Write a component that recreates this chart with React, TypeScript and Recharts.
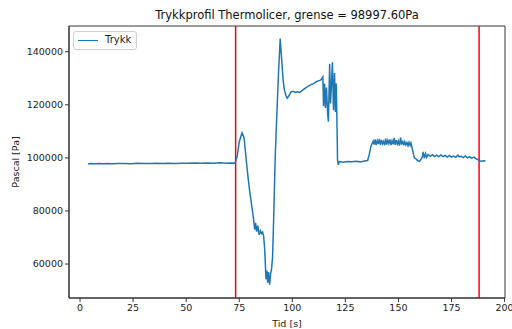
import React from 'react';
import { LineChart, Line, XAxis, YAxis, ReferenceLine, ReferenceArea } from 'recharts';

// tid i sekunder
const tid = [
  3.8, 5, 7, 9, 11, 13, 15, 18, 21, 24, 27, 30, 33, 36, 39, 42, 45, 48, 51, 54, 57, 60, 63, 66, 69, 71, 73,
  74, 75, 76.3, 77.3, 78.2, 79.1, 80, 80.7, 81.5, 82.3, 82.7, 83.2, 83.7, 84.4, 85, 85.5, 86, 86.5, 87, 87.4,
  87.6, 88, 88.4, 88.8, 89.3, 89.8, 90.2, 90.7, 91.2, 91.9, 92.6, 93.5, 94.3, 95, 95.7, 96.3, 97, 97.6, 98.5,
  99.3, 100.3, 101.5, 102.5, 103.4, 105, 106.5, 108.1, 110, 111.5, 113, 113.6, 114.4, 114.7, 115.2, 115.6,
  116.1, 116.6, 117, 117.6, 118, 118.4, 118.9, 119.4, 119.9, 120.3, 120.7, 121.1, 121.3, 121.7, 122.2, 124,
  126, 128, 130, 132, 134, 135.5, 136.3, 137.1, 138.1, 138.6, 139, 139.5, 140, 140.5, 141, 141.5, 142, 142.5,
  143, 143.5, 144, 144.5, 145, 145.5, 146, 146.5, 147, 147.5, 148, 148.5, 149, 149.5, 150, 150.5, 151, 151.5,
  152, 152.5, 153, 153.5, 154, 154.5, 155, 155.5, 155.9, 156.5, 157.5, 158.3, 159, 159.8, 160.5, 161.2, 161.7,
  162.2, 162.8, 163.3, 164, 165, 166, 167, 168, 169, 170, 171, 172, 173, 174, 175, 176, 177, 178, 178.6, 179.5,
  180.5, 181.5, 182.5, 183.5, 184.5, 185.7, 186.5, 187.3, 188, 189, 190.4, 191,
];

// trykk i Pa
const trykk = [
  97700, 97900, 97750, 97850, 97800, 97900, 97800, 97850, 97900, 97800, 97950, 97850, 97900, 98000, 97900,
  97950, 97900, 98000, 97950, 98050, 97950, 98100, 98000, 98150, 98000, 98100, 98000,
  100500, 106000, 109500, 107500, 100000, 93000, 87000, 83000, 78500, 73000, 75500, 72200, 74500, 71000,
  72500, 71500, 72000, 70500, 65500, 58000, 54300, 57500, 53000, 57000, 52200, 56500, 58000, 62500, 76500,
  99000, 114000, 132000, 145000, 137000, 129000, 125500, 123500, 122500, 123500, 124800, 125100, 124700,
  124900, 124600, 125600, 126500, 127300, 128000, 128800, 129200, 129500, 130500, 119500, 128000, 118800,
  126500, 117300, 113600, 135500, 120500, 127000, 136000, 118000, 132000, 117300, 128000, 110500, 99300,
  97400, 98600, 98400, 98600, 98500, 98700, 98500, 98800, 99000, 101500, 104500, 106300, 105000, 107000,
  104800, 106500, 105200, 107200, 104900, 106800, 105300, 106200, 104700, 107300, 105000, 106600, 105400,
  107000, 104800, 106400, 105100, 107500, 104900, 106700, 105200, 106300, 104600, 107600, 105000, 106500,
  104700, 106100, 104900, 105800, 104600, 105900, 104700, 105600, 103500, 100000, 99600, 99000, 98700, 99300,
  100300, 102300, 99800, 101600, 100200, 101300, 100600, 101200, 100500, 101000, 100400, 101100, 100500,
  100900, 100300, 100900, 100300, 100700, 100200, 101000, 100400, 100600, 100100, 100700, 100000, 100500,
  99900, 100300, 99700, 99400, 98900, 98700, 98900, 98800,
];

const xTicks = [0, 25, 50, 75, 100, 125, 150, 175, 200];
const yTicks = [60000, 80000, 100000, 120000, 140000];
const grenser = [73.3, 188];
const xDomain = [-5.2, 200.2];
const yDomain = [47200, 149700];

const data = tid.map((t, i) => ({ tid: t, trykk: trykk[i] }));

const font = 'DejaVu Sans';
const tickStyle = { fontSize: 9.5, fill: '#222', fontFamily: font };
const axisLine = { stroke: '#222', strokeWidth: 0.9 };

const LegendBox = () => (
  <div
    style={{
      position: 'absolute',
      left: 73,
      top: 31,
      width: 62,
      height: 17,
      border: '1px solid #d0d0d0',
      borderRadius: 3,
      background: 'rgba(255,255,255,0.8)',
      fontFamily: font,
      fontSize: 10,
      color: '#222',
    }}
  >
    <div style={{ position: 'absolute', left: 4, top: 7.5, width: 20, height: 1.5, background: '#1f77b4' }} />
    <span style={{ position: 'absolute', left: 31, top: 2, lineHeight: '12px' }}>Trykk</span>
  </div>
);

export default function App() {
  return (
    <div style={{ position: 'absolute', left: 0, top: 0, width: 512, height: 329, background: '#fff' }}>
      <div
        style={{
          position: 'absolute',
          left: 69,
          width: 436,
          top: 8,
          textAlign: 'center',
          fontFamily: font,
          fontSize: 11.5,
          color: '#111',
          lineHeight: '14px',
        }}
      >
        Trykkprofil Thermolicer, grense = 98997.60Pa
      </div>
      <LineChart width={512} height={329} data={data} margin={{ top: 26, right: 7, bottom: 0, left: 0 }}>
        <XAxis
          dataKey="tid"
          type="number"
          domain={xDomain}
          ticks={xTicks}
          allowDataOverflow
          height={31}
          tickSize={4}
          tickMargin={2}
          tick={tickStyle}
          axisLine={axisLine}
          tickLine={axisLine}
          label={{ value: 'Tid [s]', position: 'insideBottom', offset: 2, style: { fontSize: 9.5, fill: '#222', fontFamily: font } }}
        />
        <YAxis
          type="number"
          domain={yDomain}
          ticks={yTicks}
          allowDataOverflow
          width={69}
          tickSize={4}
          tickMargin={2}
          tick={tickStyle}
          axisLine={axisLine}
          tickLine={axisLine}
          label={{
            content: () => (
              <text
                x={15}
                y={162}
                transform="rotate(-90 15 162)"
                textAnchor="middle"
                dominantBaseline="central"
                fontSize={9.5}
                fill="#222"
                fontFamily={font}
              >
                Pascal [Pa]
              </text>
            ),
          }}
        />
        <ReferenceArea
          x1={xDomain[0]}
          x2={xDomain[1]}
          y1={yDomain[0]}
          y2={yDomain[1]}
          fill="none"
          fillOpacity={0}
          stroke="#222"
          strokeWidth={0.9}
        />
        {grenser.map((g) => (
          <ReferenceLine key={g} x={g} stroke="#ff0000" strokeWidth={1.5} />
        ))}
        <Line
          type="linear"
          dataKey="trykk"
          stroke="#1f77b4"
          strokeWidth={1.5}
          dot={false}
          isAnimationActive={false}
        />
      </LineChart>
      <LegendBox />
    </div>
  );
}
